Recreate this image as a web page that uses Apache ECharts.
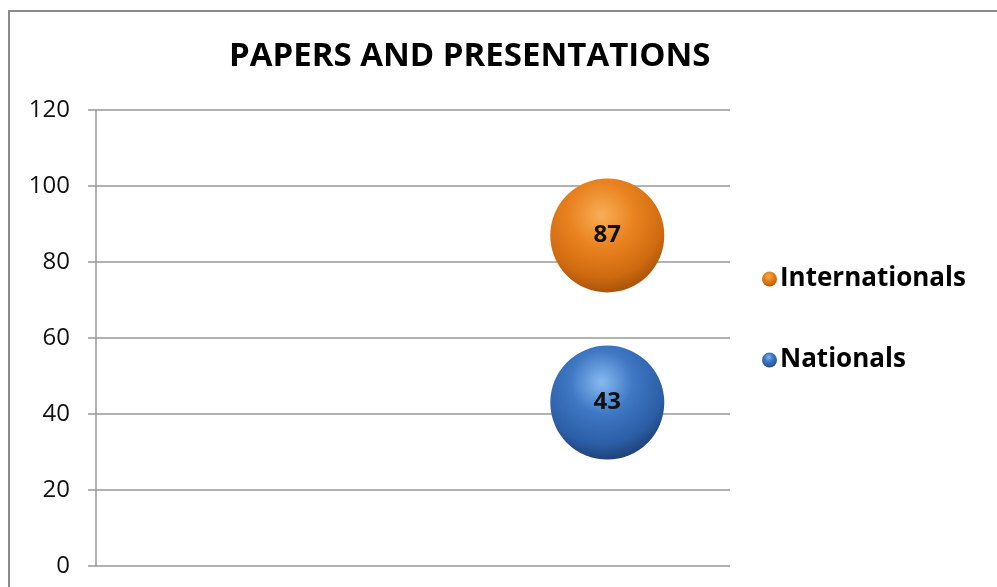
<!DOCTYPE html>
<html>
<head>
<meta charset="utf-8">
<script src="https://cdn.jsdelivr.net/npm/echarts@6/dist/echarts.min.js"></script>
<style>
html,body{margin:0;padding:0;background:#fff;}
#chart{width:997px;height:587px;}
</style>
</head>
<body>
<div id="chart"></div>
<script>
var seriesNames = ['Internationals', 'Nationals'];
var xValues = [2, 2];
var yValues = [87, 43];
var yTicks = [0, 20, 40, 60, 80, 100, 120];

var font = '"Open Sans", "Liberation Sans", sans-serif';
var chart = echarts.init(document.getElementById('chart'));

var gradients = [
  new echarts.graphic.RadialGradient(0.45, 0.32, 0.78, [
    {offset: 0, color: '#f9ae58'},
    {offset: 0.35, color: '#ea8421'},
    {offset: 0.7, color: '#cf6a10'},
    {offset: 1, color: '#8e4404'}
  ]),
  new echarts.graphic.RadialGradient(0.45, 0.32, 0.78, [
    {offset: 0, color: '#86bbf0'},
    {offset: 0.35, color: '#4078c4'},
    {offset: 0.7, color: '#2b5ea6'},
    {offset: 1, color: '#142f5a'}
  ])
];

var series = seriesNames.map(function (name, i) {
  return {
    name: name,
    type: 'scatter',
    symbol: 'circle',
    symbolSize: 114,
    data: [[xValues[i], yValues[i]]],
    itemStyle: {
      color: gradients[i],
      opacity: 1
    },
    label: {
      show: true,
      position: 'inside',
      formatter: function (p) { return p.value[1]; },
      fontFamily: font,
      fontWeight: 'bold',
      fontSize: 24,
      color: '#111'
    },
    emphasis: {disabled: true}
  };
});

chart.setOption({
  animation: false,
  backgroundColor: '#ffffff',
  title: {
    text: 'PAPERS AND PRESENTATIONS',
    left: 224,
    top: 35,
    textStyle: {fontFamily: font, fontWeight: 'bold', fontSize: 33, color: '#000'}
  },
  graphic: [{
    type: 'rect',
    shape: {x: 9, y: 11, width: 1200, height: 1000},
    style: {fill: 'none', stroke: '#8a8a8a', lineWidth: 2},
    silent: true
  }],
  legend: {
    orient: 'vertical',
    left: 757,
    top: 261,
    itemWidth: 15,
    itemHeight: 15,
    itemGap: 55,
    icon: 'circle',
    data: seriesNames.map(function (n, i) {
      return {name: n, itemStyle: {color: gradients[i], opacity: 1}};
    }),
    textStyle: {fontFamily: font, fontWeight: 'bold', fontSize: 26, color: '#000', padding: [0, 0, 0, -2]}
  },
  grid: {left: 96, top: 110, right: 267, bottom: 21, containLabel: false},
  xAxis: {
    type: 'value',
    min: 0,
    max: 2.48,
    show: false
  },
  yAxis: {
    type: 'value',
    min: yTicks[0],
    max: yTicks[yTicks.length - 1],
    interval: 20,
    axisLine: {show: true, lineStyle: {color: '#999', width: 1.5}},
    axisTick: {show: true, length: 8, lineStyle: {color: '#999', width: 1.5}},
    axisLabel: {
      margin: 26,
      fontFamily: font,
      fontSize: 24,
      color: '#111',
      formatter: function (v) { return yTicks.indexOf(v) >= 0 ? String(v) : ''; }
    },
    splitLine: {show: true, lineStyle: {color: '#999', width: 1.5}}
  },
  series: series
});
</script>
</body>
</html>
